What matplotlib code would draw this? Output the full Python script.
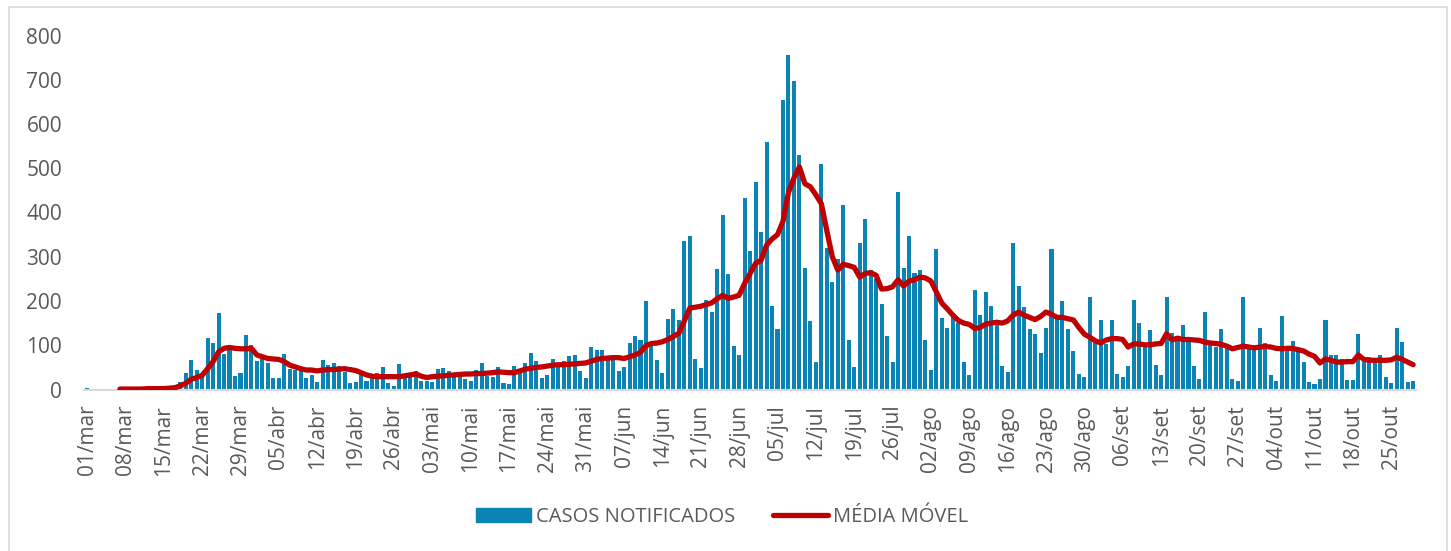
import numpy as np
import matplotlib
matplotlib.use("Agg")
import matplotlib.pyplot as plt
from matplotlib.patches import Rectangle
from matplotlib.lines import Line2D

plt.rcParams['font.family'] = ['Open Sans', 'DejaVu Sans']

# --- dados (um valor por dia, 01/mar a 29/out) ---
casos = [
    3, 0, 0, 0, 0, 1, 0, 0, 0, 0,
    0, 0, 0, 0, 0, 2, 5, 16, 37, 66,
    44, 32, 117, 106, 172, 81, 89, 30, 38, 124,
    100, 65, 68, 59, 26, 27, 81, 47, 44, 44,
    27, 33, 18, 66, 56, 61, 53, 40, 15, 18,
    32, 20, 30, 38, 51, 15, 8, 57, 30, 29,
    41, 20, 20, 17, 46, 49, 41, 30, 29, 23,
    19, 45, 59, 30, 29, 51, 14, 12, 54, 44,
    60, 83, 64, 25, 32, 68, 56, 64, 75, 77,
    41, 25, 96, 89, 90, 70, 66, 41, 51, 105,
    120, 111, 201, 100, 66, 38, 159, 182, 158, 336,
    347, 70, 49, 203, 176, 273, 395, 261, 99, 78,
    432, 312, 469, 357, 559, 188, 136, 655, 756, 698,
    531, 274, 154, 62, 510, 319, 243, 294, 418, 111,
    51, 330, 386, 270, 250, 193, 120, 62, 447, 275,
    346, 264, 269, 111, 44, 318, 162, 138, 166, 150,
    63, 33, 224, 169, 221, 189, 150, 53, 39, 331,
    234, 186, 136, 126, 83, 139, 317, 160, 200, 136,
    86, 36, 29, 209, 111, 156, 103, 156, 35, 28,
    52, 202, 150, 103, 135, 56, 32, 209, 127, 111,
    146, 115, 53, 24, 176, 100, 96, 136, 96, 23,
    19, 210, 92, 92, 139, 105, 32, 19, 166, 92,
    110, 96, 63, 18, 13, 24, 157, 78, 78, 70,
    21, 21, 126, 62, 73, 69, 77, 29, 14, 140,
    108, 18, 20,
]

media_movel = [
    None, None, None, None, None, None, 1, 1, 1, 1,
    1, 2, 2, 2, 2, 3, 4, 8, 14, 23,
    27, 32, 47, 63, 85, 93, 95, 93, 92, 92,
    93, 78, 74, 70, 69, 68, 63, 55, 51, 47,
    44, 44, 42, 44, 45, 45, 46, 47, 45, 43,
    38, 33, 30, 29, 29, 29, 29, 29, 31, 33,
    35, 30, 27, 29, 30, 31, 32, 33, 34, 35,
    35, 36, 36, 37, 38, 40, 39, 38, 38, 42,
    46, 48, 50, 51, 53, 55, 56, 56, 57, 58,
    59, 60, 64, 68, 70, 71, 72, 72, 70, 74,
    78, 84, 99, 104, 105, 108, 113, 120, 127, 155,
    184, 186, 188, 192, 196, 205, 213, 206, 209, 213,
    240, 262, 285, 292, 326, 340, 350, 380, 445, 478,
    503, 465, 458, 440, 420, 359, 300, 270, 283, 280,
    276, 254, 262, 264, 258, 227, 228, 232, 248, 234,
    245, 248, 254, 252, 245, 220, 195, 182, 168, 156,
    150, 147, 138, 140, 148, 150, 152, 150, 155, 168,
    175, 168, 163, 158, 165, 175, 170, 163, 163, 160,
    157, 140, 125, 118, 110, 105, 112, 115, 115, 113,
    96, 103, 103, 101, 101, 103, 104, 126, 112, 116,
    113, 113, 112, 111, 107, 105, 104, 102, 98, 92,
    95, 98, 96, 94, 96, 97, 96, 93, 92, 93,
    93, 90, 87, 80, 75, 60, 69, 66, 62, 62,
    63, 63, 78, 68, 66, 66, 66, 66, 67, 73,
    68, 62, 56,
]

rotulos_x = ['01/mar', '08/mar', '15/mar', '22/mar', '29/mar', '05/abr', '12/abr',
             '19/abr', '26/abr', '03/mai', '10/mai', '17/mai', '24/mai', '31/mai',
             '07/jun', '14/jun', '21/jun', '28/jun', '05/jul', '12/jul', '19/jul',
             '26/jul', '02/ago', '09/ago', '16/ago', '23/ago', '30/ago', '06/set',
             '13/set', '20/set', '27/set', '04/out', '11/out', '18/out', '25/out']

AZUL = '#0B84B5'
VERMELHO = '#C00000'
CINZA = '#595959'

dias = np.arange(len(casos))
mm = np.array([np.nan if v is None else v for v in media_movel], dtype=float)

W, H = 1451, 551
fig = plt.figure(figsize=(W / 100, H / 100), dpi=100)
ax = fig.add_axes([84.3 / W, (H - 389.5) / H, 1331.6 / W, 354 / H])

ax.bar(dias, casos, width=0.74, color=AZUL, zorder=2)
ax.plot(dias, mm, color=VERMELHO, lw=3.8, solid_capstyle='round',
        solid_joinstyle='round', zorder=3)

ax.set_xlim(-0.5, len(casos) - 0.5)
ax.set_ylim(0, 800)
ax.set_yticks(np.arange(0, 801, 100))
ax.set_xticks(dias[::7][:len(rotulos_x)])
ax.set_xticklabels(rotulos_x, rotation=90)

for s in ['top', 'right', 'left']:
    ax.spines[s].set_visible(False)
ax.spines['bottom'].set_color('#D9D9D9')
ax.spines['bottom'].set_linewidth(1.5)
ax.tick_params(axis='y', length=0, pad=16, labelsize=15, labelcolor=CINZA)
ax.tick_params(axis='x', length=0, pad=11, labelsize=15, labelcolor=CINZA)

handles = [Rectangle((0, 0), 1, 1, color=AZUL),
           Line2D([0], [0], color=VERMELHO, lw=3.8, solid_capstyle='round')]
fig.legend(handles, ['CASOS NOTIFICADOS', 'MÉDIA MÓVEL'], loc='center',
           bbox_to_anchor=(722 / W, 34 / H), ncol=2, frameon=False,
           fontsize=14.5, labelcolor=CINZA, handlelength=2.7, handleheight=0.75,
           handletextpad=0.25, columnspacing=1.9)

# borda do grafico
fig.patches.append(Rectangle((9 / W, -0.01), 1438 / W, (H - 7) / H + 0.01,
                             transform=fig.transFigure, fill=False,
                             edgecolor='#D9D9D9', lw=1.2))

fig.savefig('out.png', dpi=100)
